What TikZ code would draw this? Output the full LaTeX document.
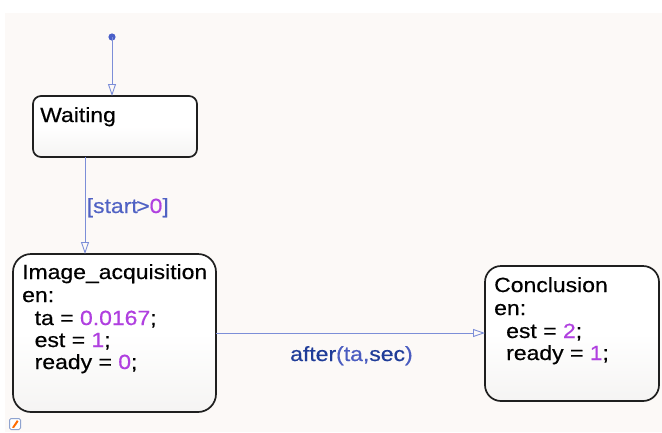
\documentclass[tikz,border=0pt]{standalone}
\usepackage{fontspec}
\setmainfont{Liberation Sans}[FakeStretch=1.12, FakeBold=0.5]
\usetikzlibrary{arrows.meta}
\definecolor{bgc}{HTML}{FCF9F7}
\definecolor{tline}{HTML}{7C8ED8}
\definecolor{dotc}{HTML}{4A5FC8}
\definecolor{numc}{HTML}{B040E0}
\definecolor{condc}{HTML}{5062C4}
\definecolor{kwc}{HTML}{1F3C98}
\definecolor{argc}{HTML}{4A5CC0}
\definecolor{boxbot}{HTML}{F5F4F3}
\definecolor{iconb}{HTML}{8FA3CF}
\tikzset{
  statebox/.style={draw=black!88, line width=1.7pt, rounded corners=#1,
    top color=white, bottom color=boxbot, middle color=white},
  statebox/.default=9pt,
  txt/.style={anchor=base west, inner sep=0pt, font=\fontsize{20.5}{22.5}\selectfont, text=black},
  trans/.style={draw=tline, line width=0.9pt,
    -{Triangle[open, length=12pt, width=8pt, line width=0.9pt]}},
}
\begin{document}
\begin{tikzpicture}[x=1pt,y=-1pt]
\useasboundingbox (0,0) rectangle (662,432);
\fill[white] (0,0) rectangle (662,432);
\fill[bgc] (5,13) rectangle (662,432);

% states
\path[statebox=8pt] (33,96) rectangle (197,157);
\node[draw=none, minimum width=164pt, minimum height=61pt, anchor=north west, inner sep=0pt] (wait) at (33,96) {};

\path[statebox=18pt] (13,254) rectangle (216,412);
\node[draw=none, minimum width=203pt, minimum height=158pt, anchor=north west, inner sep=0pt] (img) at (13,254) {};

\path[statebox=16pt] (485,266) rectangle (659,401);
\node[draw=none, minimum width=174pt, minimum height=135pt, anchor=north west, inner sep=0pt] (conc) at (485,266) {};

% texts
\node[txt] (tw) at (40,122) {Waiting};

\node[txt] (ti1) at (22,279) {Image\_acquisition};
\node[txt] (ti2) at (22,302) {en:};
\node[txt] (ti3) at (34.5,325) {ta = \textcolor{numc}{0.0167};};
\node[txt] (ti4) at (34.5,347) {est = \textcolor{numc}{1};};
\node[txt] (ti5) at (34.5,369) {ready = \textcolor{numc}{0};};

\node[txt] (tc1) at (494,292) {Conclusion};
\node[txt] (tc2) at (494,315) {en:};
\node[txt] (tc3) at (506,338) {est = \textcolor{numc}{2};};
\node[txt] (tc4) at (506,360) {ready = \textcolor{numc}{1};};

% initial dot
\fill[dotc] (112,37) circle (3.6pt);
\coordinate (init) at (112,37);
\coordinate (waittop) at (112,96);
\draw[trans] (init) -- (waittop);

% transitions
\coordinate (w1) at (85,157);
\coordinate (i1) at (85,254);
\draw[trans] (w1) -- (i1);
\node[txt, text=condc] (cond) at (86.5,213) {[start\kern-1.5pt>\textcolor{numc}{0}]};

\coordinate (i2) at (216,333);
\coordinate (c2) at (485,333);
\draw[trans] (i2) -- (c2);
\node[txt, text=argc] (aft) at (290,361) {\textcolor{kwc}{after}(ta,\textcolor{kwc}{sec})};

% small icon bottom-left
\node[draw=iconb, fill=white, rounded corners=1.5pt, minimum width=11pt, minimum height=11pt, inner sep=0pt, line width=1pt] (icon) at (15,424) {};
\fill[orange!85!red] (12,427.5) -- (17,420) -- (18.5,421.5) -- (14,428) -- cycle;
\end{tikzpicture}
\end{document}
